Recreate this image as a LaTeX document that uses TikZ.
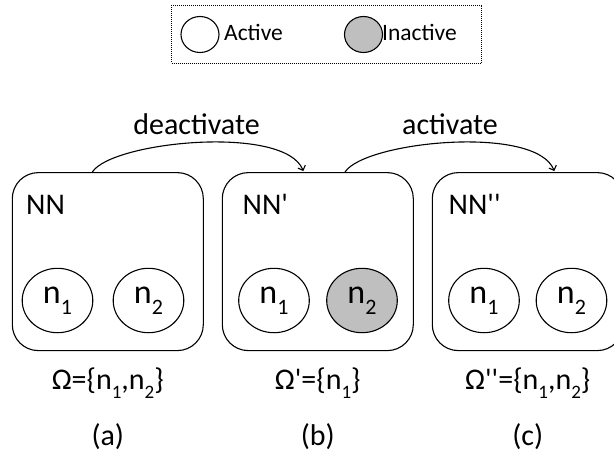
\documentclass[tikz,border=0pt]{standalone}
\usepackage{fontspec}
\setmainfont{Carlito}[Ligatures=TeXOff]
\usetikzlibrary{shapes.geometric,arrows.meta}
% lowered index digits, sized for the circle labels and the set labels
\newcommand\cidx[1]{\raisebox{-0.32em}{\fontsize{22pt}{22pt}\selectfont #1}}
\newcommand\sidx[1]{\raisebox{-0.3em}{\fontsize{19pt}{19pt}\selectfont #1}}
\begin{document}
\begin{tikzpicture}[x=1pt,y=-1pt,
  netbox/.style={draw,rounded corners=26pt,line width=1.1pt,
    minimum width=191pt,minimum height=178pt,inner sep=0pt},
  neuron/.style={draw,ellipse,line width=1.1pt,minimum width=70.6pt,
    minimum height=64.4pt,inner sep=0pt,fill=white,
    font=\fontsize{34pt}{34pt}\selectfont},
  off/.style={fill=gray!50},
  keydot/.style={draw,ellipse,line width=1.1pt,minimum width=38pt,
    minimum height=36pt,inner sep=0pt,fill=white},
  keytxt/.style={anchor=base west,inner sep=0pt,
    font=\fontsize{23.5pt}{23.5pt}\selectfont},
  big/.style={inner sep=0pt,font=\fontsize{30pt}{30pt}\selectfont},
  flow/.style={line width=1.1pt,-{Straight Barb[length=4pt,width=8pt]}}]
\useasboundingbox (0,0) rectangle (614,456);
\clip (0,0) rectangle (614,456);

% legend
\draw[line width=0.9pt,dash pattern=on 1pt off 1pt] (171.7,5) rectangle (481.7,63);
\node[keydot] (ka) at (200,34.5) {};
\node[keytxt] (kat) at (224,40) {Active};
\node[keydot,off] (ki) at (363.5,34.5) {};
\node[keytxt] (kit) at (382,40) {Inactive};

% the three networks
\node[netbox] (a) at (107.8,261.6) {};
\node[netbox] (b) at (317.8,261.6) {};
\node[netbox] (c) at (527.8,261.6) {};

\node[big,anchor=base west] (la) at (26,214) {NN};
\node[big,anchor=base west] (lb) at (242.5,214) {NN'};
\node[big,anchor=base west] (lc) at (448.5,214) {NN''};

\node[neuron] (a1) at (57.5,300.5) {n\cidx{1}};
\node[neuron] (a2) at (148.5,300.5) {n\cidx{2}};
\node[neuron] (b1) at (274,300.5) {n\cidx{1}};
\node[neuron,off] (b2) at (362,300.5) {n\cidx{2}};
\node[neuron] (c1) at (484,300.5) {n\cidx{1}};
\node[neuron] (c2) at (571.5,300.5) {n\cidx{2}};

% transitions
\coordinate (da) at ([xshift=-15.5pt]a.north);
\coordinate (db) at ([xshift=-14.5pt,yshift=1pt]b.north);
\coordinate (ab) at ([xshift=27.2pt]b.north);
\coordinate (ac) at ([xshift=26.5pt,yshift=1pt]c.north);
\draw[flow] (da) .. controls ++(19.7,-30.7) and ++(-18.3,-46.7) .. (db);
\draw[flow] (ab) .. controls ++(19.7,-30.7) and ++(-18.3,-46.7) .. (ac);
\node[big,anchor=base] (tdeact) at (196.5,134) {deactivate};
\node[big,anchor=base] (tact) at (450,134) {activate};

% sets of active neurons and captions
\node[big,anchor=base] (sa) at (107.8,389) {Ω=\{n\sidx{1},n\sidx{2}\}};
\node[big,anchor=base] (sb) at (317.8,389) {Ω'=\{n\sidx{1}\}};
\node[big,anchor=base] (sc) at (527.8,389) {Ω''=\{n\sidx{1},n\sidx{2}\}};
\node[big,anchor=base] (ca) at (107.8,445) {(a)};
\node[big,anchor=base] (cb) at (317.8,445) {(b)};
\node[big,anchor=base] (cc) at (527.8,445) {(c)};
\end{tikzpicture}
\end{document}
